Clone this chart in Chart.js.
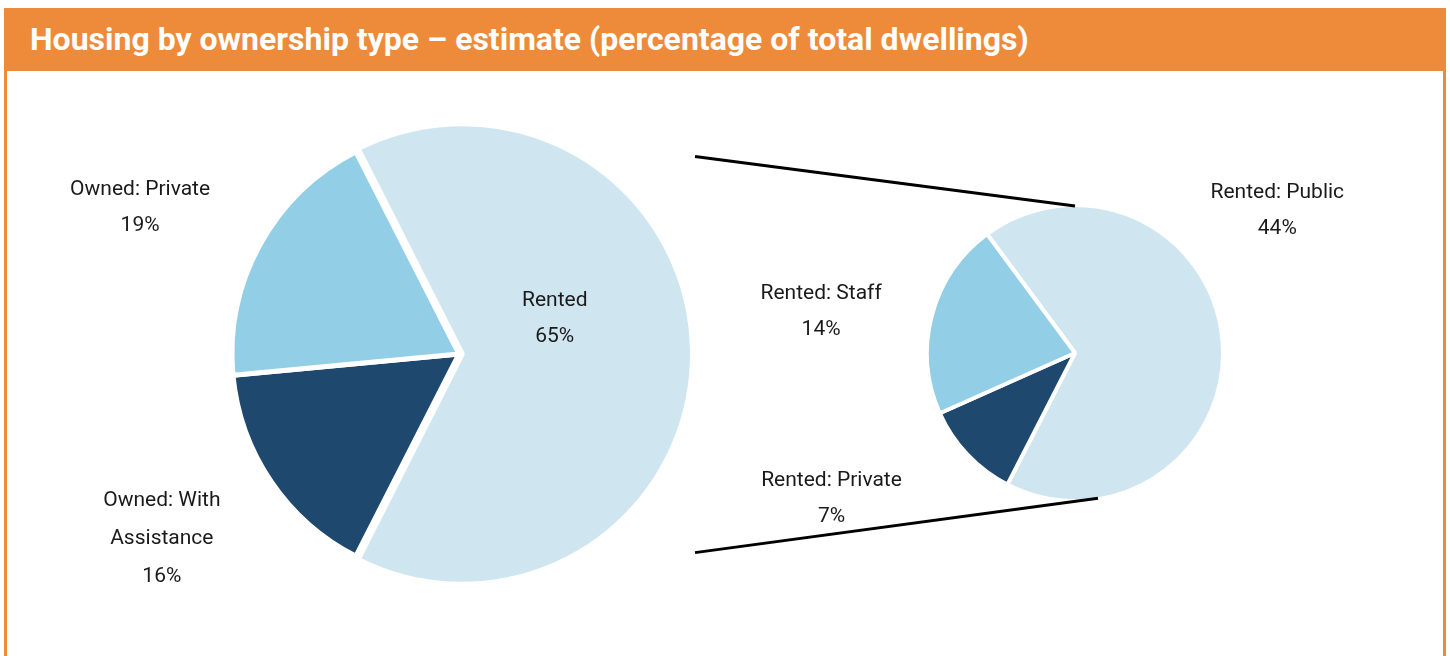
<!DOCTYPE html>
<html>
<head>
<meta charset="utf-8">
<script src="https://cdn.jsdelivr.net/npm/chart.js@4"></script>
<style>
  html, body { margin: 0; padding: 0; background: #fff; overflow: hidden; }
  body { width: 1450px; height: 656px; position: relative; font-family: Roboto, sans-serif; }
  #frame {
    position: absolute; left: 4px; top: 8px; width: 1436px; height: 700px;
    border: 3px solid #ee8b3a; border-top: none; background: #fff;
  }
  #title {
    position: absolute; left: 4px; top: 8px; width: 1442px; height: 63px;
    background: #ee8b3a; color: #fff; font-weight: bold; font-size: 32px;
    line-height: 63px; padding-left: 26px; box-sizing: border-box; white-space: nowrap;
  }
  canvas { position: absolute; left: 0; top: 0; }
</style>
</head>
<body>
<div id="frame"></div>
<div id="title">Housing by ownership type – estimate (percentage of total dwellings)</div>
<canvas id="mainPie" width="1450" height="656"></canvas>
<canvas id="subPie" width="1450" height="656"></canvas>
<script>
// main pie: all dwellings
const mainLabels = ['Rented', ['Owned: With', 'Assistance'], 'Owned: Private'];
const mainValues = [65, 16, 19];

// breakdown of the rented slice
const subLabels = ['Rented: Public', 'Rented: Private', 'Rented: Staff'];
const subValues = [44, 7, 14];

const LIGHT = '#cfe6f1', MID = '#92cee5', DARK = '#1f486e';
const TEXT = '#1a1a1a';

// label spot per slice: angle shift from slice middle (deg), distance in radii
function sliceLabels(places) {
  return {
    id: 'sliceLabels',
    afterDatasetsDraw(chart) {
      const ctx = chart.ctx;
      const ds = chart.data.datasets[0];
      const meta = chart.getDatasetMeta(0);
      ctx.save();
      ctx.font = '21px Roboto, sans-serif';
      ctx.fillStyle = TEXT;
      ctx.textAlign = 'center';
      ctx.textBaseline = 'middle';
      meta.data.forEach((arc, i) => {
        const p = arc.getProps(['x', 'y', 'startAngle', 'endAngle', 'outerRadius'], true);
        const off = ds.offset ? ds.offset[i] || 0 : 0;
        const mid = (p.startAngle + p.endAngle) / 2;
        const cx = p.x + Math.cos(mid) * off;
        const cy = p.y + Math.sin(mid) * off;
        const a = mid + places[i].shift * Math.PI / 180;
        const lx = cx + Math.cos(a) * p.outerRadius * places[i].dist;
        const ly = cy + Math.sin(a) * p.outerRadius * places[i].dist + 2;
        const name = chart.data.labels[i];
        const lines = (Array.isArray(name) ? name : [name]).concat(ds.data[i] + '%');
        const lh = lines.length > 2 ? 38 : 36;
        lines.forEach((t, k) => {
          ctx.fillText(t, lx, ly + (k - (lines.length - 1) / 2) * lh);
        });
      });
      ctx.restore();
    }
  };
}

const baseOptions = {
  responsive: false,
  animation: false,
  events: [],
  plugins: { legend: { display: false }, tooltip: { enabled: false } }
};

const mainChart = new Chart(document.getElementById('mainPie'), {
  type: 'pie',
  data: {
    labels: mainLabels,
    datasets: [{
      data: mainValues,
      backgroundColor: [LIGHT, DARK, MID],
      borderColor: '#fff',
      borderWidth: 5,
      offset: [13, 0, 0],
      radius: 227
    }]
  },
  options: {
    ...baseOptions,
    rotation: -27,
    layout: { padding: { left: 6, right: 538, top: 52, bottom: 0 } }
  },
  plugins: [sliceLabels([
    { shift: -24.3, dist: 0.40 },
    { shift: 2.6, dist: 1.537 },
    { shift: -3.8, dist: 1.55 }
  ])]
});

// connector lines from the rented slice to the breakdown pie
const connectors = {
  id: 'connectors',
  afterDatasetsDraw(chart) {
    const ctx = chart.ctx;
    const big = mainChart.getDatasetMeta(0).data[0].getProps(['x', 'y', 'outerRadius'], true);
    const small = chart.getDatasetMeta(0).data[0].getProps(['x', 'y', 'outerRadius'], true);
    const bx = 695;
    const ends = [
      [bx, big.y - big.outerRadius * 0.87, -90],
      [bx, big.y + big.outerRadius * 0.875, 81]
    ];
    ctx.save();
    ctx.strokeStyle = '#000';
    ctx.lineWidth = 3;
    ends.forEach(([x0, y0, deg]) => {
      const a = deg * Math.PI / 180;
      ctx.beginPath();
      ctx.moveTo(x0, y0);
      ctx.lineTo(small.x + Math.cos(a) * (small.outerRadius - 1), small.y + Math.sin(a) * (small.outerRadius - 1));
      ctx.stroke();
    });
    ctx.restore();
  }
};

new Chart(document.getElementById('subPie'), {
  type: 'pie',
  data: {
    labels: subLabels,
    datasets: [{
      data: subValues,
      backgroundColor: [LIGHT, DARK, MID],
      borderColor: '#fff',
      borderWidth: 4,
      radius: 148
    }]
  },
  options: {
    ...baseOptions,
    rotation: -36.5,
    layout: { padding: { left: 700, right: 0, top: 50, bottom: 0 } }
  },
  plugins: [connectors, sliceLabels([
    { shift: -30.9, dist: 1.68 },
    { shift: 12.9, dist: 1.91 },
    { shift: -5.1, dist: 1.74 }
  ])]
});
</script>
</body>
</html>
